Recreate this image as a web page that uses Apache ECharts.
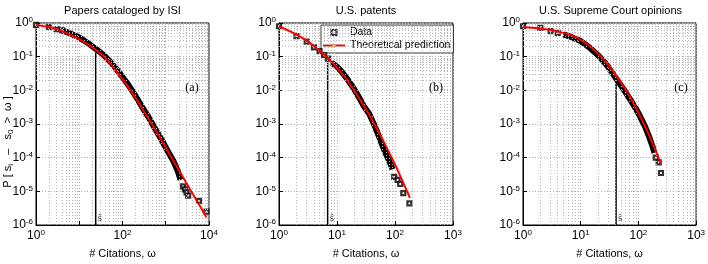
<!DOCTYPE html>
<html><head><meta charset="utf-8">
<script src="https://cdn.jsdelivr.net/npm/echarts@6/dist/echarts.min.js"></script>
<style>html,body{margin:0;padding:0;background:#fff}#c{width:708px;height:264px}</style>
</head><body><div id="c"></div>
<script>
// ---------- data ----------
const titles = ['Papers cataloged by ISI', 'U.S. patents', 'U.S. Supreme Court opinions'];
const panelTags = ['(a)', '(b)', '(c)'];
const xAxisName = '# Citations, \u03c9';
const xMaxExp = [4, 3, 3];
const yMinExp = -6;
const minorMult = [2, 3, 4, 5, 6, 7, 8, 9];

// (a) ISI papers
const isiTheory = [[1,0.88],[2,0.76],[3,0.67],[5,0.51],[8,0.39],[12,0.29],[18,0.21],[25,0.155],[35,0.11],[51,0.066],[70,0.039],[104,0.02],[140,0.0118],[177,0.0076],[240,0.0042],[300,0.0026],[420,0.0013],[612,5.8e-4],[800,3.3e-4],[1042,1.8e-4],[1500,8.1e-5],[2118,3.8e-5],[3000,1.78e-5],[4270,8.1e-6],[6000,3.9e-6],[8700,1.7e-6]];
const isiBand = [[4,0.6],[6,0.5],[9,0.4],[13,0.3],[18,0.225],[25,0.165],[35,0.118],[50,0.075],[70,0.045],[100,0.025],[140,0.0138],[200,0.0068],[280,0.0033],[400,0.0016],[560,7.5e-4],[800,3.4e-4],[1100,1.6e-4],[1500,8e-5],[1900,4e-5],[2200,2.2e-5]];
const isiPoints = [[1,0.88],[2,0.76],[3,0.66],[4,0.6],[2500,1.4e-5],[2770,1.15e-5],[3020,9.3e-6],[3300,7.5e-6],[5900,5.2e-6],[8760,2.5e-6]];
const isiShat = [24, 0.13];

// (b) US patents
const patTheory = [[1,0.8],[2,0.46],[3.3,0.27],[5.66,0.125],[8.4,0.066],[14,0.024],[21,0.0085],[36,0.0019],[61,3.5e-4],[104,5.5e-5],[181,6.4e-6]];
const patBand = [[8,0.068],[10,0.05],[12,0.036],[15,0.022],[19,0.012],[24,0.0062],[29,0.0034],[36,0.002],[45,8.5e-4],[55,3.6e-4],[65,1.7e-4],[75,1.0e-4],[85,6.2e-5],[91,4.5e-5]];
const patPoints = [[1,0.8],[2,0.41],[3,0.28],[4,0.19],[5,0.146],[6,0.112],[7,0.087],[97,2.7e-5],[111,2.2e-5],[123,1.65e-5],[139,8.9e-6],[177,4.4e-6]];
const patShat = [6.9, 0.09];

// (c) Supreme Court
const sctTheory = [[1,0.76],[2,0.69],[3.3,0.61],[5,0.51],[7,0.43],[9.6,0.33],[14,0.214],[18.6,0.141],[26,0.076],[36,0.038],[50,0.017],[70,0.0068],[90,0.0031],[119,0.0012],[150,5.1e-4],[177,2.6e-4],[210,1.3e-4],[246,6.5e-5]];
const sctBand = [[5,0.46],[7,0.38],[10,0.29],[14,0.19],[20,0.11],[28,0.058],[40,0.024],[55,0.011],[75,0.0048],[100,0.0021],[130,8.5e-4],[155,4e-4],[175,2.2e-4],[190,1.4e-4]];
const sctPoints = [[1,0.8],[2,0.72],[3,0.57],[4,0.51],[200,1.0e-4],[225,7.2e-5],[246,3.5e-5]];
const sctShat = [41, 0.022];

// ---------- layout ----------
const panels = [
  {theory: isiTheory, band: isiBand, pts: isiPoints, shat: isiShat, grid: {left: 36, top: 23, width: 173, height: 213}},
  {theory: patTheory, band: patBand, pts: patPoints, shat: patShat, grid: {left: 279, top: 23, width: 174, height: 213}},
  {theory: sctTheory, band: sctBand, pts: sctPoints, shat: sctShat, grid: {left: 523, top: 23, width: 175, height: 213}}
];

const FONT = 'Liberation Sans, Arial, Helvetica, sans-serif';
const SERIF = 'Liberation Serif, Times New Roman, serif';
const rich = {
  b: {fontSize: 12, fontFamily: FONT, color: '#000', lineHeight: 14},
  e: {fontSize: 8, fontFamily: FONT, color: '#000', lineHeight: 8, verticalAlign: 'top'}
};
function minorVals(e0, e1) {
  const out = [];
  for (let e = e0; e < e1; e++) for (const m of minorMult) out.push(+(m * Math.pow(10, e)).toPrecision(3));
  return out;
}
const gridLine = {color: '#b4b4b4', width: 1, type: [1, 2]};
const markerStyle = {color: '#fff', borderColor: '#000', borderWidth: 2.2};

const grid = [], xAxis = [], yAxis = [], series = [], graphic = [];
panels.forEach((p, i) => {
  grid.push(Object.assign({show: true, borderColor: '#000', borderWidth: 1, backgroundColor: '#fff'}, p.grid));
  const step = i === 0 ? 2 : 1;
  xAxis.push({
    type: 'log', logBase: 10, gridIndex: i, min: 1, max: Math.pow(10, xMaxExp[i]),
    name: xAxisName, nameLocation: 'middle', nameGap: 23,
    nameTextStyle: {fontSize: 11, fontFamily: FONT, color: '#000'},
    axisLine: {show: true, lineStyle: {color: '#000'}},
    axisTick: {show: true, inside: true, length: 4, lineStyle: {color: '#000'}},
    splitLine: {show: true, lineStyle: gridLine},
    axisLabel: {
      margin: 4, showMinLabel: true, showMaxLabel: true, rich,
      formatter: v => { const e = Math.round(Math.log10(v)); return e % step === 0 ? '{b|10}{e|' + e + '}' : ''; }
    }
  });
  yAxis.push({
    type: 'log', logBase: 10, gridIndex: i, min: Math.pow(10, yMinExp), max: 1,
    axisLine: {show: true, lineStyle: {color: '#000'}},
    axisTick: {show: true, inside: true, length: 4, lineStyle: {color: '#000'}},
    splitLine: {show: true, lineStyle: gridLine},
    axisLabel: {
      margin: 3, showMinLabel: true, showMaxLabel: true, rich, align: 'right',
      formatter: v => '{b|10}{e|' + Math.round(Math.log10(v)) + '}'
    }
  });
  const ax = {xAxisIndex: i, yAxisIndex: i};
  series.push(Object.assign({
    type: 'line', data: [], silent: true, z: 1, animation: false,
    markLine: {
      silent: true, symbol: ['none', 'none'], label: {show: false}, animation: false,
      lineStyle: gridLine,
      data: minorVals(0, xMaxExp[i]).map(v => ({xAxis: v})).concat(minorVals(yMinExp, 0).map(v => ({yAxis: v})))
    }
  }, ax));
  series.push(Object.assign({type: 'line', name: 'band', data: p.band, symbol: 'none', silent: true, animation: false,
    lineStyle: {color: '#000', width: 6}, z: 2}, ax));
  series.push(Object.assign({type: 'line', name: 'shat', data: [[p.shat[0], Math.pow(10, yMinExp)], [p.shat[0], p.shat[1]]],
    symbol: 'none', silent: true, animation: false, lineStyle: {color: '#000', width: 1.5}, z: 3}, ax));
  series.push(Object.assign({type: 'scatter', name: 'Data', data: p.pts, symbol: 'rect', symbolSize: 4, animation: false,
    itemStyle: markerStyle, z: 4}, ax));
  series.push(Object.assign({type: 'line', name: 'Theoretical prediction', data: p.theory, symbol: 'none', animation: false,
    lineStyle: {color: '#f00', width: 2}, z: 5}, ax));
  series.push(Object.assign({type: 'scatter', name: 'shatLabel', data: [[p.shat[0], 1.6e-6]], symbolSize: 0, silent: true, animation: false,
    label: {show: true, formatter: '\u015d', position: 'right', distance: 2, fontSize: 11, fontFamily: SERIF, color: '#000'}, z: 6}, ax));

  const cx = p.grid.left + p.grid.width / 2;
  graphic.push({type: 'text', x: cx, y: 11, z: 10, style: {text: titles[i], align: 'center', verticalAlign: 'middle',
    font: '11px ' + FONT, fill: '#000'}});
  graphic.push({type: 'text', x: p.grid.left + p.grid.width - 17, y: 88, z: 10, style: {text: panelTags[i], align: 'center', verticalAlign: 'middle',
    font: '12px ' + SERIF, fill: '#000'}});
});

// y axis title (rotated) for the first panel
graphic.push({
  type: 'text', x: 8, y: 142, rotation: Math.PI / 2, z: 10,
  style: {
    text: '{m|P [ s}{s|i}{m|   \u2013   s}{s|0}{m|  >  \u03c9 ]}', align: 'center', verticalAlign: 'middle',
    rich: {
      m: {fontSize: 11, fontFamily: FONT, fill: '#000', lineHeight: 13},
      s: {fontSize: 8, fontFamily: FONT, fill: '#000', lineHeight: 8, verticalAlign: 'bottom'}
    }
  }
});

const chart = echarts.init(document.getElementById('c'), null, {renderer: 'canvas'});
chart.setOption({
  animation: false,
  grid, xAxis, yAxis, series, graphic,
  legend: {
    show: true, orient: 'vertical', left: 321, top: 25, selectedMode: false,
    data: [
      {name: 'Data', icon: 'path://M0,0L1,0L1,1L0,1Z', itemStyle: markerStyle},
      {name: 'Theoretical prediction'}
    ],
    itemWidth: 22, itemHeight: 5, itemGap: 2, padding: [2, 3, 2, 1],
    backgroundColor: '#fff', borderColor: '#000', borderWidth: 0.8,
    textStyle: {fontSize: 10.5, fontFamily: FONT, color: '#000'}
  }
});
</script></body></html>
